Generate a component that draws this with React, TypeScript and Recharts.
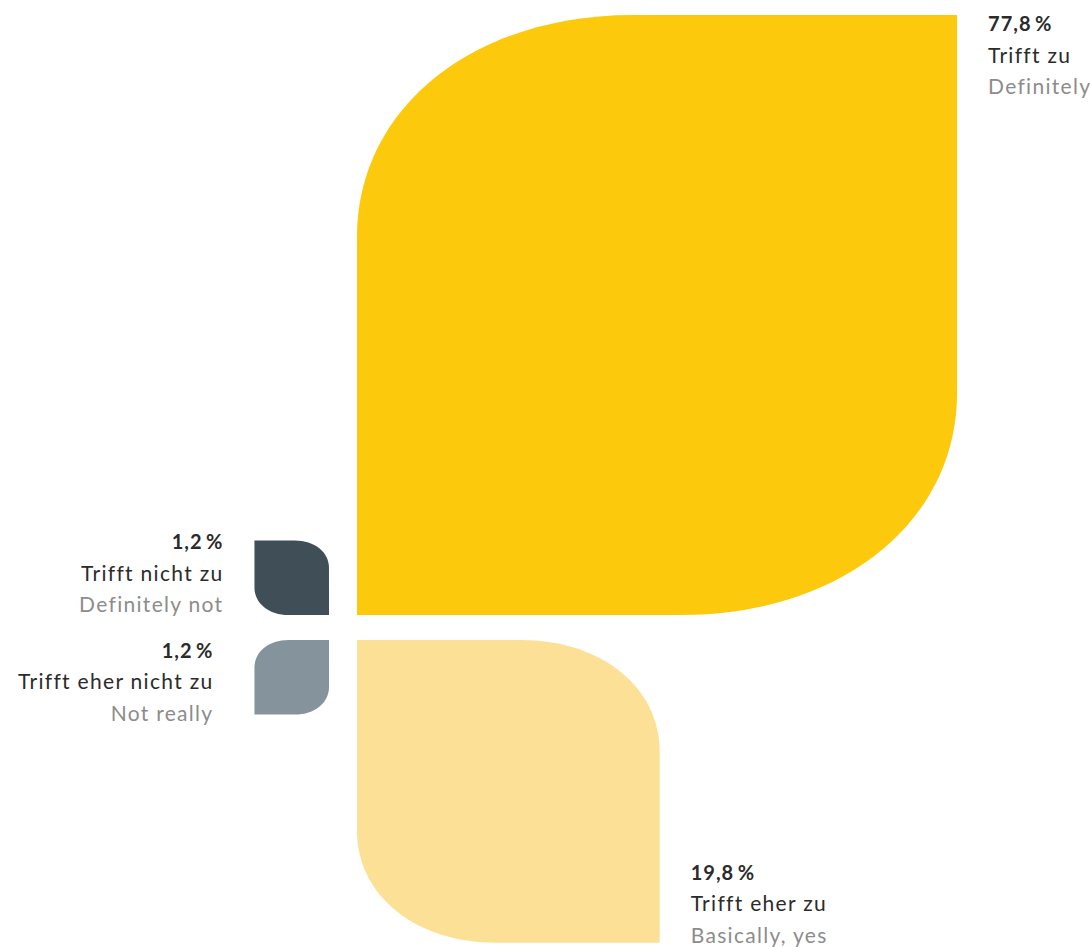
import { ReferenceArea, Scatter, ScatterChart, XAxis, YAxis } from "recharts";

// answers, share in percent
const CATEGORIES = ["Trifft zu", "Trifft eher zu", "Trifft eher nicht zu", "Trifft nicht zu"];
const ENGLISH = ["Definitely", "Basically, yes", "Not really", "Definitely not"];
const SHARES = [77.8, 19.8, 1.2, 1.2];
// quadrant each leaf grows into: [x sign, y sign]
const QUADRANTS: [number, number][] = [[1, 1], [1, -1], [-1, -1], [-1, 1]];
const COLORS = ["#FDC90C", "#FCE095", "#85939C", "#404E58"];

// axis set-up (units = sqrt of percent, so leaf area ~ share)
const X_DOMAIN = [-5.042, 10.981];
const Y_DOMAIN = [-4.697, 9.225];
const GAP_X = 0.206;
const GAP_Y = 0.184;

// label placement per leaf: dx from outer corner, dy of first baseline
const LABEL_POS = [
    { dx: 31, dy: 16, anchor: "start" },
    { dx: 31, dy: -63, anchor: "start" },
    { dx: -41, dy: -57, anchor: "end" },
    { dx: -31, dy: 9, anchor: "end" },
];

const leaves = SHARES.map((v, i) => {
    const side = Math.sqrt(v);
    const [sx, sy] = QUADRANTS[i];
    return {
        name: CATEGORIES[i],
        english: ENGLISH[i],
        value: v,
        x1: sx * GAP_X,
        x2: sx * (GAP_X + side),
        y1: sy * GAP_Y,
        y2: sy * (GAP_Y + side),
        // outer corner, used for the label
        x: sx * (GAP_X + side),
        y: sy * (GAP_Y + side),
        idx: i,
    };
});

const leafPath = (x: number, y: number, w: number, h: number, tlbr: boolean) => {
    const rx = w * 0.46;
    const ry = h * 0.37;
    const k = 0.58;
    if (tlbr) {
        return `M${x + rx},${y} L${x + w},${y} L${x + w},${y + h - ry}
      C${x + w},${y + h - ry + ry * k} ${x + w - rx + rx * k},${y + h} ${x + w - rx},${y + h}
      L${x},${y + h} L${x},${y + ry}
      C${x},${y + ry - ry * k} ${x + rx - rx * k},${y} ${x + rx},${y} Z`;
    }
    return `M${x},${y} L${x + w - rx},${y}
      C${x + w - rx + rx * k},${y} ${x + w},${y + ry - ry * k} ${x + w},${y + ry}
      L${x + w},${y + h} L${x + rx},${y + h}
      C${x + rx - rx * k},${y + h} ${x},${y + h - ry + ry * k} ${x},${y + h - ry} Z`;
};

const Label = (props: any) => {
    const { cx, cy, payload } = props;
    const pos = LABEL_POS[payload.idx];
    const x = cx + pos.dx;
    const y = cy + pos.dy;
    const font = { fontFamily: "Lato, 'Open Sans', sans-serif", fontSize: 21, letterSpacing: 1.3 };
    return (
        <g>
            <text x={x} y={y} textAnchor={pos.anchor} fill="#2b2b2b" fontWeight={700} style={{ ...font, fontSize: 20, letterSpacing: 1 }}>
                {payload.value.toFixed(1).replace(".", ",")}{"\u2009"}%
            </text>
            <text x={x} y={y + 31.5} textAnchor={pos.anchor} fill="#2b2b2b" style={font}>
                {payload.name}
            </text>
            <text x={x} y={y + 63} textAnchor={pos.anchor} fill="#8c8c8c" style={font}>
                {payload.english}
            </text>
        </g>
    );
};

export default function App() {
    return (
        <div style={{ position: "absolute", left: 0, top: 0, width: 1090, height: 947, background: "#fff" }}>
            <ScatterChart width={1090} height={947} margin={{ top: 0, right: 0, bottom: 0, left: 0 }}>
                <XAxis type="number" dataKey="x" domain={X_DOMAIN} allowDataOverflow hide />
                <YAxis type="number" dataKey="y" domain={Y_DOMAIN} allowDataOverflow hide />
                {leaves.map((l, i) => (
                    <ReferenceArea
                        key={l.name}
                        x1={l.x1}
                        x2={l.x2}
                        y1={l.y1}
                        y2={l.y2}
                        ifOverflow="visible"
                        shape={(p: any) => (
                            <path
                                d={leafPath(p.x, p.y, p.width, p.height, QUADRANTS[i][0] * QUADRANTS[i][1] > 0)}
                                fill={COLORS[i]}
                            />
                        )}
                    />
                ))}
                <Scatter data={leaves} shape={Label} isAnimationActive={false} />
            </ScatterChart>
        </div>
    );
}
